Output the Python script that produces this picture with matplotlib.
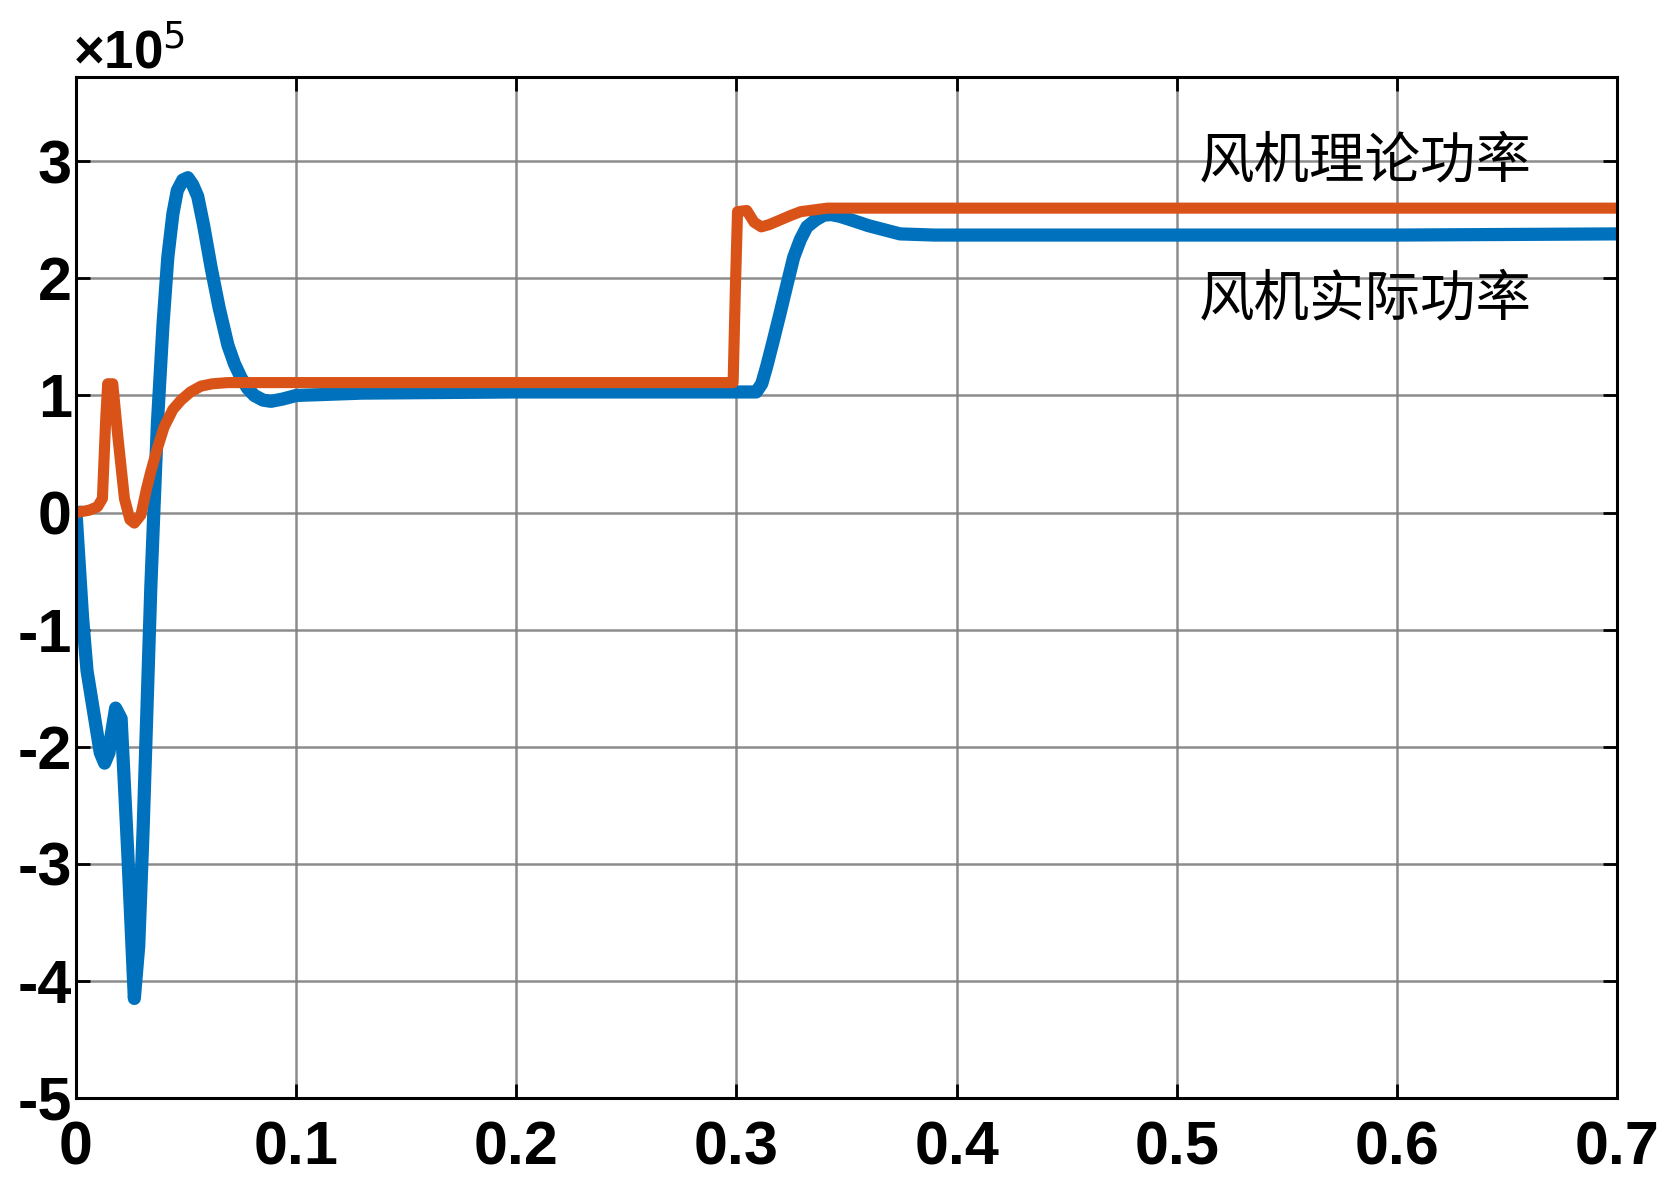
import numpy as np
import matplotlib.pyplot as plt
from matplotlib.ticker import FixedLocator, FixedFormatter

plt.rcParams['font.family'] = ['Liberation Sans', 'DejaVu Sans']

# actual power (blue), values in units of 1e5
t_act = [0.0, 0.0015, 0.003, 0.005, 0.008, 0.011, 0.013, 0.015, 0.016, 0.018, 0.0205,
         0.0235, 0.0265, 0.0285, 0.0305, 0.034, 0.037, 0.0395, 0.0417, 0.044,
         0.046, 0.0485, 0.0508, 0.053, 0.0553, 0.058, 0.0614, 0.065, 0.069,
         0.072, 0.075, 0.078, 0.081, 0.085, 0.0886, 0.094, 0.1, 0.13, 0.2,
         0.25, 0.3, 0.309, 0.3115, 0.3137, 0.3165, 0.3198, 0.323, 0.326,
         0.329, 0.332, 0.336, 0.3397, 0.343, 0.347, 0.352, 0.36, 0.3743,
         0.39, 0.42, 0.5, 0.6, 0.7]
p_act = [0.0, -0.45, -0.9, -1.35, -1.7, -2.05, -2.14, -2.05, -1.9, -1.67, -1.76,
         -2.9, -4.15, -3.7, -2.7, -0.63, 0.77, 1.6, 2.18, 2.55,
         2.75, 2.84, 2.86, 2.8, 2.7, 2.45, 2.09, 1.75, 1.43,
         1.27, 1.15, 1.06, 1.0, 0.96, 0.95, 0.97, 1.0, 1.02, 1.03,
         1.03, 1.03, 1.03, 1.1, 1.245, 1.45, 1.7, 1.95, 2.18,
         2.33, 2.44, 2.5, 2.54, 2.545, 2.53, 2.5, 2.45, 2.38,
         2.37, 2.37, 2.37, 2.37, 2.38]

# theoretical power (orange)
t_th = [0.0, 0.006, 0.0098, 0.012, 0.0135, 0.0144, 0.0167, 0.019, 0.022,
        0.0245, 0.0265, 0.0295, 0.032, 0.034, 0.037, 0.040, 0.044, 0.0477,
        0.052, 0.0568, 0.062, 0.069, 0.08, 0.1, 0.2, 0.2985, 0.2995, 0.3005,
        0.3047, 0.308, 0.3113, 0.315, 0.32, 0.325, 0.3292, 0.3413, 0.36,
        0.5, 0.7]
p_th = [0.0, 0.02, 0.05, 0.12, 0.8, 1.1, 1.1, 0.65, 0.12,
        -0.06, -0.09, -0.02, 0.2, 0.35, 0.55, 0.73, 0.88, 0.96,
        1.03, 1.08, 1.1, 1.11, 1.11, 1.11, 1.11, 1.11, 1.9, 2.57,
        2.58, 2.48, 2.44, 2.46, 2.5, 2.54, 2.57, 2.6, 2.6,
        2.6, 2.6]

x_ticks = [0, 0.1, 0.2, 0.3, 0.4, 0.5, 0.6, 0.7]
x_labels = ['0', '0.1', '0.2', '0.3', '0.4', '0.5', '0.6', '0.7']
y_ticks = [-5, -4, -3, -2, -1, 0, 1, 2, 3]
y_labels = ['-5', '-4', '-3', '-2', '-1', '0', '1', '2', '3']

fig = plt.figure(figsize=(16.59, 11.86), dpi=100)
ax = fig.add_axes([76 / 1659, 1 - 1098 / 1186, (1617 - 76) / 1659, (1098 - 77) / 1186])

ax.plot(t_act, p_act, color='#0072BD', lw=9.5, solid_joinstyle='round')
ax.plot(t_th, p_th, color='#D95319', lw=8, solid_joinstyle='round')

ax.set_xlim(0, 0.7)
ax.set_ylim(-5, 3.72)
ax.xaxis.set_major_locator(FixedLocator(x_ticks))
ax.xaxis.set_major_formatter(FixedFormatter(x_labels))
ax.yaxis.set_major_locator(FixedLocator(y_ticks))
ax.yaxis.set_major_formatter(FixedFormatter(y_labels))
ax.grid(True, color='#808080', lw=1.8, alpha=0.9)
ax.set_axisbelow(True)
for s in ax.spines.values():
    s.set_linewidth(2.2)
ax.tick_params(direction='in', length=10, width=2, top=True, right=True,
               labelsize=44)
ax.tick_params(axis='x', pad=16)
ax.tick_params(axis='y', pad=3)
for lab in ax.get_xticklabels() + ax.get_yticklabels():
    lab.set_fontweight('bold')

ax.text(-0.002, 1.008, '×10$^{5}$', transform=ax.transAxes,
        ha='left', va='baseline', fontsize=38, fontweight='semibold')

cjk = ['Noto Sans CJK SC', 'DejaVu Sans']
ax.text(0.510, 3.0, '风机理论功率', family=cjk, fontsize=40, va='center', ha='left')
ax.text(0.510, 1.82, '风机实际功率', family=cjk, fontsize=40, va='center', ha='left')

fig.savefig('out.png', dpi=100)
